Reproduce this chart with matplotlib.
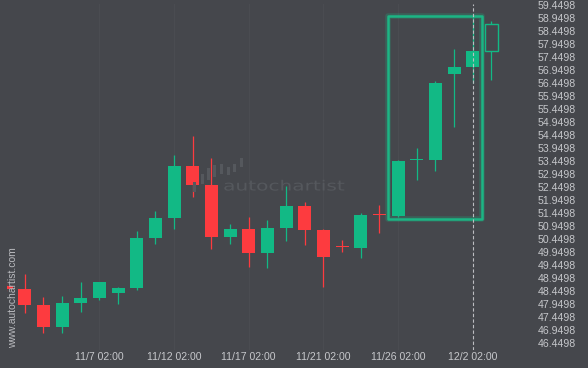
import matplotlib
matplotlib.use("Agg")
import matplotlib.pyplot as plt
from matplotlib.patches import Rectangle, PathPatch
from matplotlib.textpath import TextPath
from matplotlib.font_manager import FontProperties
from matplotlib.transforms import Affine2D
import numpy as np

# ---- data ----
idx = list(range(-1, 26))
opens  = [48.66, 48.54, 47.92, 47.08, 48.00, 48.19, 48.38, 48.59, 50.49, 51.26, 53.26, 52.53, 50.54, 50.84,
          49.93, 50.88, 51.72, 50.80, 50.14, 50.12, 51.37, 51.34, 53.47, 53.50, 56.80, 57.06, 57.68]
highs  = [48.75, 49.11, 48.23, 48.27, 48.81, 48.81, 48.63, 50.76, 51.53, 53.68, 54.41, 53.55, 51.02, 51.30,
          51.19, 52.49, 51.89, 50.85, 50.42, 51.44, 51.76, 53.49, 53.94, 56.52, 57.74, 59.02, 58.82]
lows   = [48.45, 47.60, 46.84, 46.84, 47.64, 48.10, 47.95, 48.49, 50.25, 50.85, 52.06, 50.06, 50.28, 49.39,
          49.33, 50.37, 50.21, 48.60, 49.97, 49.72, 50.68, 51.30, 52.71, 53.06, 54.74, 56.46, 56.57]
closes = [48.54, 47.93, 47.08, 48.00, 48.19, 48.81, 48.57, 50.49, 51.26, 53.26, 52.54, 50.54, 50.84, 49.93,
          50.88, 51.72, 50.81, 49.78, 50.13, 51.38, 51.36, 53.45, 53.48, 56.44, 57.06, 57.67, 58.70]
live_index = 25  # last, still forming candle (hollow)

tick_idx = [4, 8, 12, 16, 20, 24]
tick_labels = ["11/7 02:00", "11/12 02:00", "11/17 02:00", "11/21 02:00", "11/26 02:00", "12/2 02:00"]
ytick_vals = [46.4498 + 0.5 * k for k in range(27)]

box_x = (20, 24)          # pattern candles
box_y = (51.21, 59.02)    # pattern price range
marker_index = 24         # dashed vertical line

# ---- style ----
BG = "#45474c"
GREEN = "#12b985"
RED = "#fd3b3f"
TXT = "#c6c7cb"
WM = "#55585d"
W, H = 588, 368

fig = plt.figure(figsize=(W / 100, H / 100), dpi=100, facecolor=BG)
L, R, T, B = 7, 532, 4, 350
ax = fig.add_axes([L / W, (H - B) / H, (R - L) / W, (B - T) / H], facecolor=BG)
ax.set_xlim(-0.948, 27.172)
ax.set_ylim(46.1948, 59.4767)
for s in ax.spines.values():
    s.set_visible(False)

font = ["Liberation Sans", "DejaVu Sans"]

ax.yaxis.tick_right()
ax.set_yticks(ytick_vals)
ax.set_yticklabels([f"{v:.4f}" for v in ytick_vals], family=font, fontsize=7.6, color=TXT)
ax.set_xticks(tick_idx)
ax.set_xticklabels(tick_labels, family=font, fontsize=7.6, color=TXT)
ax.tick_params(axis="y", length=0, pad=4.3)
ax.tick_params(axis="x", length=0, pad=1.8)
ax.grid(axis="x", color="#4a4c51", lw=0.8)
ax.set_axisbelow(True)

# ---- candles ----
o = np.array(opens); c = np.array(closes); h = np.array(highs); lo = np.array(lows)
x = np.array(idx)
cols = np.where(c >= o, GREEN, RED)
ax.vlines(x, lo, h, colors=cols, lw=0.9, zorder=3)
bottom = np.minimum(o, c)
height = np.maximum(np.abs(c - o), 0.06)
for xi, bi, hi, col in zip(x, bottom, height, cols):
    if xi == live_index:
        ax.bar(xi, hi, bottom=bi, width=0.67, facecolor=BG, edgecolor=col, lw=1.0, zorder=4)
    else:
        ax.bar(xi, hi, bottom=bi, width=0.7, color=col, lw=0, zorder=4)

# ---- pattern box ----
bx0, bx1 = box_x[0] - 0.54, box_x[1] + 0.49
for lw, a in [(4.0, 0.25), (1.8, 1.0)]:
    ax.add_patch(Rectangle((bx0, box_y[0]), bx1 - bx0, box_y[1] - box_y[0], fill=False,
                           edgecolor="#1cb584", lw=lw, alpha=a, joinstyle="round", zorder=5))

ax.axvline(marker_index, color="#bcbdc1", lw=0.8, ls=(0, (3, 2)), zorder=6)

# ---- watermarks ----
fig.text(13 / W, 1 - 298 / H, "www.autochartist.com", rotation=90, ha="center", va="center",
         family=font, fontsize=7.5, color="#b9babe")

def px(xp, yp):
    return xp / W, 1 - yp / H

tp = TextPath((0, 0), "autochartist", size=1, prop=FontProperties(family="DejaVu Sans"))
ext = tp.get_extents()
sx = 120 / ext.width
sy = 10.7 / 0.76
tr = Affine2D().translate(-ext.x0, 0).scale(sx, sy).translate(224.3, H - 190.5).scale(1 / W, 1 / H) + fig.transFigure
fig.patches.append(PathPatch(tp, transform=tr, facecolor=WM, edgecolor="none", zorder=1))

icon = [(194, 182, 192), (202, 174, 184), (208.5, 168, 180), (214.5, 165, 177),
        (221, 164, 174), (228, 167, 175), (234.5, 164, 172), (241, 158, 167)]
for xc, yt, yb in icon:
    x0, y0 = px(xc - 1.5, yb)
    fig.patches.append(Rectangle((x0, y0), 3 / W, (yb - yt) / H, transform=fig.transFigure,
                                 facecolor=WM, edgecolor="none", zorder=1))

fig.savefig("out.png", dpi=100, facecolor=BG)
